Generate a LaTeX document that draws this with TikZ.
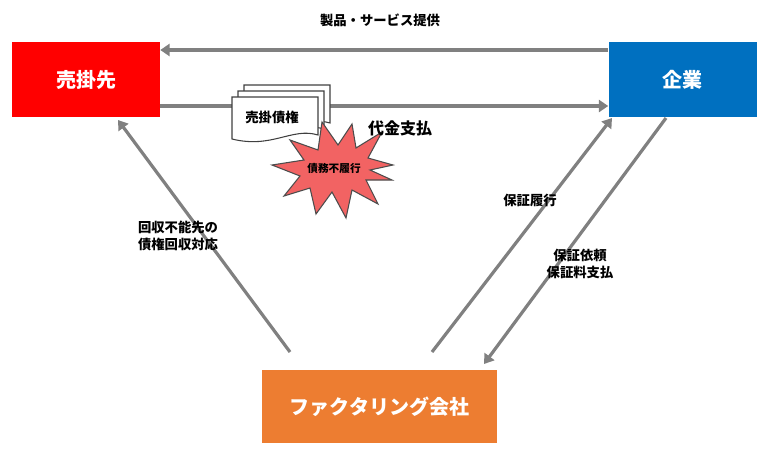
\documentclass[tikz,border=0pt]{standalone}
\usepackage{fontspec}
\setmainfont{Noto Sans CJK JP}
\usetikzlibrary{arrows.meta}
\definecolor{gr}{HTML}{808080}
\definecolor{rd}{HTML}{FF0000}
\definecolor{bl}{HTML}{0070C0}
\definecolor{og}{HTML}{ED7D31}
\definecolor{burst}{HTML}{F26363}
\tikzset{
 box/.style={minimum width=148*0.75pt, minimum height=75*0.75pt, text=white, font=\bfseries\fontsize{15}{15}\selectfont, inner sep=0},
 arr/.style={draw=gr, line width=2.4pt, -{Triangle[length=7pt,width=9pt]}},
 lbl/.style={font=\bfseries\fontsize{10}{13}\selectfont, align=center},
}
\begin{document}
\begin{tikzpicture}[x=0.75pt,y=-0.75pt]
\useasboundingbox (0,0) rectangle (768,465);
\node[box, fill=rd] (r) at (86,79.5) {売掛先};
\node[box, fill=bl] (b) at (682.5,79.5) {企業};
\node[box, fill=og, minimum width=235*0.75pt, minimum height=73*0.75pt] (o) at (379.5,406.5) {ファクタリング会社};
% top arrows
\draw[arr] (b.west|-0,50) -- (r.east|-0,50);
\node[lbl] (t1) at (380,20) {製品・サービス提供};
\draw[arr] (r.east|-0,106) -- (b.west|-0,106);
% documents
\foreach \dx/\dy in {12/-12,6/-6,0/0}{
 \filldraw[fill=white, draw=black!75, line width=0.8pt, shift={(232+\dx,97+\dy)}]
   (0,0) -- (86,0) -- (86,38) .. controls (60,30) and (40,52) .. (0,42) -- cycle;
}
\node[font=\bfseries\fontsize{10}{10}\selectfont] (doc) at (272,117) {売掛債権};
% starburst
\filldraw[fill=burst, draw=black!70, line width=0.8pt]
 (393,165) -- (368,158) -- (382,132) -- (356,148) -- (352,124) -- (338,145) -- (322,122) -- (318,150)
 -- (290,140) -- (304,160) -- (272,165) -- (300,176) -- (284,196) -- (310,188) -- (316,214)
 -- (332,192) -- (346,218) -- (352,190) -- (378,204) -- (366,180) -- (392,180) -- (370,170) -- cycle;
\node[font=\bfseries\fontsize{8}{8}\selectfont] (def) at (334,168) {債務不履行};
\node[lbl, font=\bfseries\fontsize{12}{12}\selectfont] (pay) at (400,128) {代金支払};
% diagonals
\coordinate (o1) at (290,352);
\coordinate (o2) at (432,352);
\coordinate (o3) at (484,364);
\coordinate (r1) at (118,120);
\coordinate (b1) at (612,118);
\coordinate (b2) at (666,118);
\draw[arr] (o1) -- (r1);
\draw[arr] (o2) -- (b1);
\draw[arr] (b2) -- (o3);
\node[lbl] (l1) at (178,236) {回収不能先の\\債権回収対応};
\node[lbl] (l2) at (530,200) {保証履行};
\node[lbl] (l3) at (580,264) {保証依頼\\保証料支払};
\end{tikzpicture}
\end{document}
